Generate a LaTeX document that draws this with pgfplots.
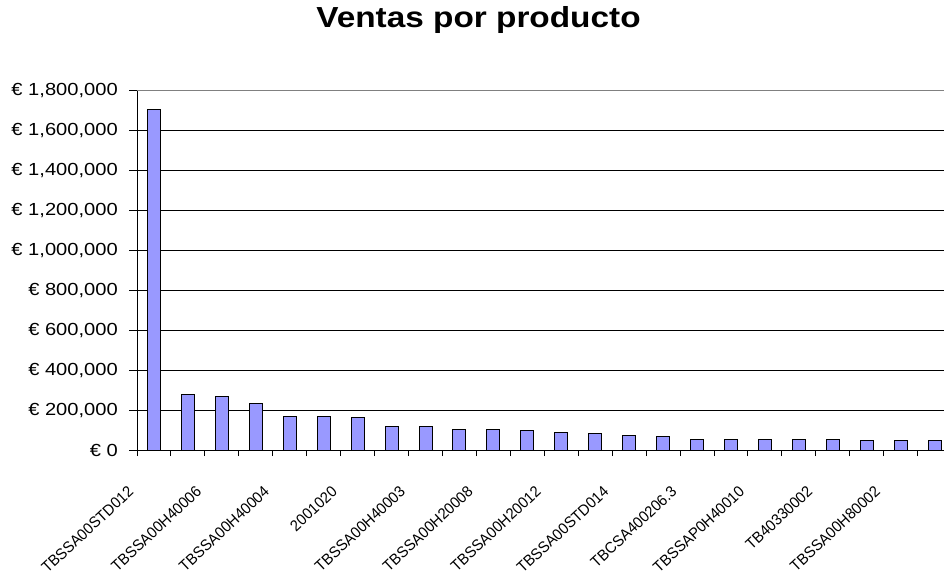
\documentclass[border=0pt]{standalone}
\usepackage{pgfplots}
\pgfplotsset{compat=1.18}
\usepackage{fontspec}
\setmainfont{Liberation Sans}
\newfontfamily\widefont[FakeStretch=1.15]{Liberation Sans}
\newfontfamily\narrowfont[FakeStretch=0.95]{Liberation Sans}
\definecolor{barfill}{HTML}{9999FF}
\newcommand\toplabel{€ 1,800,000}
\begin{document}
\begin{tikzpicture}[x=1pt,y=1pt]
\useasboundingbox (0,0) rectangle (944,576);
\fill[white] (0,0) rectangle (944,576);
\clip (0,0) rectangle (944,576);
\node[anchor=base, font=\widefont\fontsize{29}{34}\selectfont\bfseries] at (478.5,548) {Ventas por producto};
\begin{axis}[
  at={(137pt,126pt)}, anchor=south west,
  scale only axis, width=814.6pt, height=359pt,
  xmin=0.5, xmax=24.5, ymin=0, ymax=1800000,
  axis x line=bottom, axis y line=left,
  axis line style={-, black, line width=1pt},
  ybar, bar width=13pt,
  tick align=outside,
  major tick length=8pt, minor tick length=6pt,
  xtick={1,3,5,7,9,11,13,15,17,19,21,23},
  xticklabels={TBSSA00STD012, TBSSA00H40006, TBSSA00H40004, 2001020,
    TBSSA00H40003, TBSSA00H20008, TBSSA00H20012, TBSSA00STD014,
    TBCSA400206.3, TBSSAP0H40010, TB40330002, TBSSA00H80002},
  major x tick style={draw=none},
  minor xtick={0.5,1.5,2.5,3.5,4.5,5.5,6.5,7.5,8.5,9.5,10.5,11.5,12.5,
    13.5,14.5,15.5,16.5,17.5,18.5,19.5,20.5,21.5,22.5,23.5,24.5},
  minor x tick style={black, line width=1pt},
  xticklabel style={xshift=-23pt, yshift=-31pt, rotate=43, anchor=east,
    inner sep=0pt, font=\narrowfont\fontsize{15.5}{18}\selectfont},
  ytick={0,200000,400000,600000,800000,1000000,1200000,1400000,1600000},
  yticklabels={{€ 0},{€ 200,000},{€ 400,000},{€ 600,000},{€ 800,000},
    {€ 1,000,000},{€ 1,200,000},{€ 1,400,000},{€ 1,600,000}},
  extra y ticks={1800000},
  extra y tick labels={\toplabel},
  extra y tick style={ymajorgrids, grid style={gray, line width=1pt}},
  ytick style={black, line width=1pt},
  yticklabel style={anchor=east, inner sep=0pt, xshift=-11pt,
    font=\widefont\fontsize{17.5}{20}\selectfont},
  ymajorgrids,
  grid style={black, line width=1pt},
  scaled y ticks=false,
  clip=false,
]
\addplot[fill=barfill, draw=black, line width=1pt] coordinates {
  (1,1705000) (2,277000) (3,268000) (4,232000) (5,167000) (6,167000)
  (7,161000) (8,117000) (9,117000) (10,104000) (11,104000) (12,97000)
  (13,90000) (14,84000) (15,75000) (16,69000) (17,55000) (18,55000)
  (19,55000) (20,55000) (21,55000) (22,47000) (23,47000) (24,47000)
};
\end{axis}
\end{tikzpicture}
\end{document}
